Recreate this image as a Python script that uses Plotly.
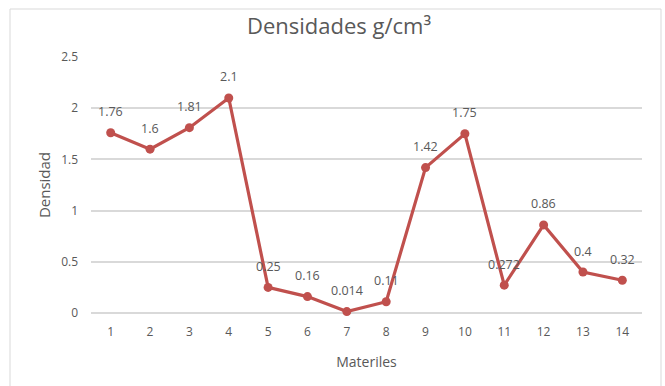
import plotly.graph_objects as go

# Densidad de cada material (g/cm³)
materiales = list(range(1, 15))
densidades = [1.76, 1.6, 1.81, 2.1, 0.25, 0.16, 0.014, 0.11, 1.42, 1.75, 0.272, 0.86, 0.4, 0.32]
etiquetas = ["1.76", "1.6", "1.81", "2.1", "0.25", "0.16", "0.014", "0.11",
             "1.42", "1.75", "0.272", "0.86", "0.4", "0.32"]
y_ticks = [0, 0.5, 1, 1.5, 2, 2.5]

W, H = 665, 386
L, R, T, B = 91, 23, 57, 73
pw, ph = W - L - R, H - T - B
FONT = "Open Sans, Calibri, sans-serif"

def px_to_paper_x(px):
    return (px - L) / pw

def px_to_paper_y(py):
    return (H - B - py) / ph

fig = go.Figure()
fig.add_trace(go.Scatter(
    x=materiales, y=densidades,
    mode="lines+markers",
    line=dict(color="#C0504D", width=3.2),
    marker=dict(color="#C0504D", size=9),
    cliponaxis=False,
    hoverinfo="x+y",
))

# Etiquetas de valor sobre cada punto
annotations = [
    dict(x=m, y=d, text=t, showarrow=False, xanchor="center", yanchor="middle",
         yshift=21, font=dict(family=FONT, size=12.5, color="#595959"))
    for m, d, t in zip(materiales, densidades, etiquetas)
]

fig.update_layout(
    width=W, height=H,
    margin=dict(l=L, r=R, t=T, b=B),
    paper_bgcolor="white", plot_bgcolor="white",
    showlegend=False,
    annotations=annotations,
    title=dict(text="Densidades g/cm³", x=339 / W, xref="container", xanchor="center",
               y=1 - 26 / H, yanchor="middle",
               font=dict(family=FONT, size=22, color="#595959")),
    xaxis=dict(
        range=[0.5, 14.5], tickvals=materiales, ticktext=[str(m) for m in materiales],
        showgrid=False, zeroline=False, showline=False, ticks="",
        ticklabelstandoff=10,
        tickfont=dict(family=FONT, size=12, color="#595959"),
        title=dict(text="Materiles", standoff=18,
                   font=dict(family=FONT, size=14, color="#595959")),
    ),
    yaxis=dict(
        range=[0, 2.5], tickvals=y_ticks, ticktext=[f"{v:g}" for v in y_ticks],
        showgrid=True, gridcolor="#D9D9D9", gridwidth=1.5,
        zeroline=True, zerolinecolor="#D9D9D9", zerolinewidth=1.5,
        showline=False, ticks="", ticklabelstandoff=12,
        tickfont=dict(family=FONT, size=12, color="#595959"),
        title=dict(text="Densidad", standoff=6,
                   font=dict(family=FONT, size=15, color="#595959")),
    ),
    shapes=[dict(
        type="rect", xref="paper", yref="paper", layer="below",
        x0=px_to_paper_x(10), x1=px_to_paper_x(661),
        y0=px_to_paper_y(390), y1=px_to_paper_y(9),
        line=dict(color="#D9D9D9", width=1), fillcolor="rgba(0,0,0,0)",
    )],
)

fig.write_html("out.html")
